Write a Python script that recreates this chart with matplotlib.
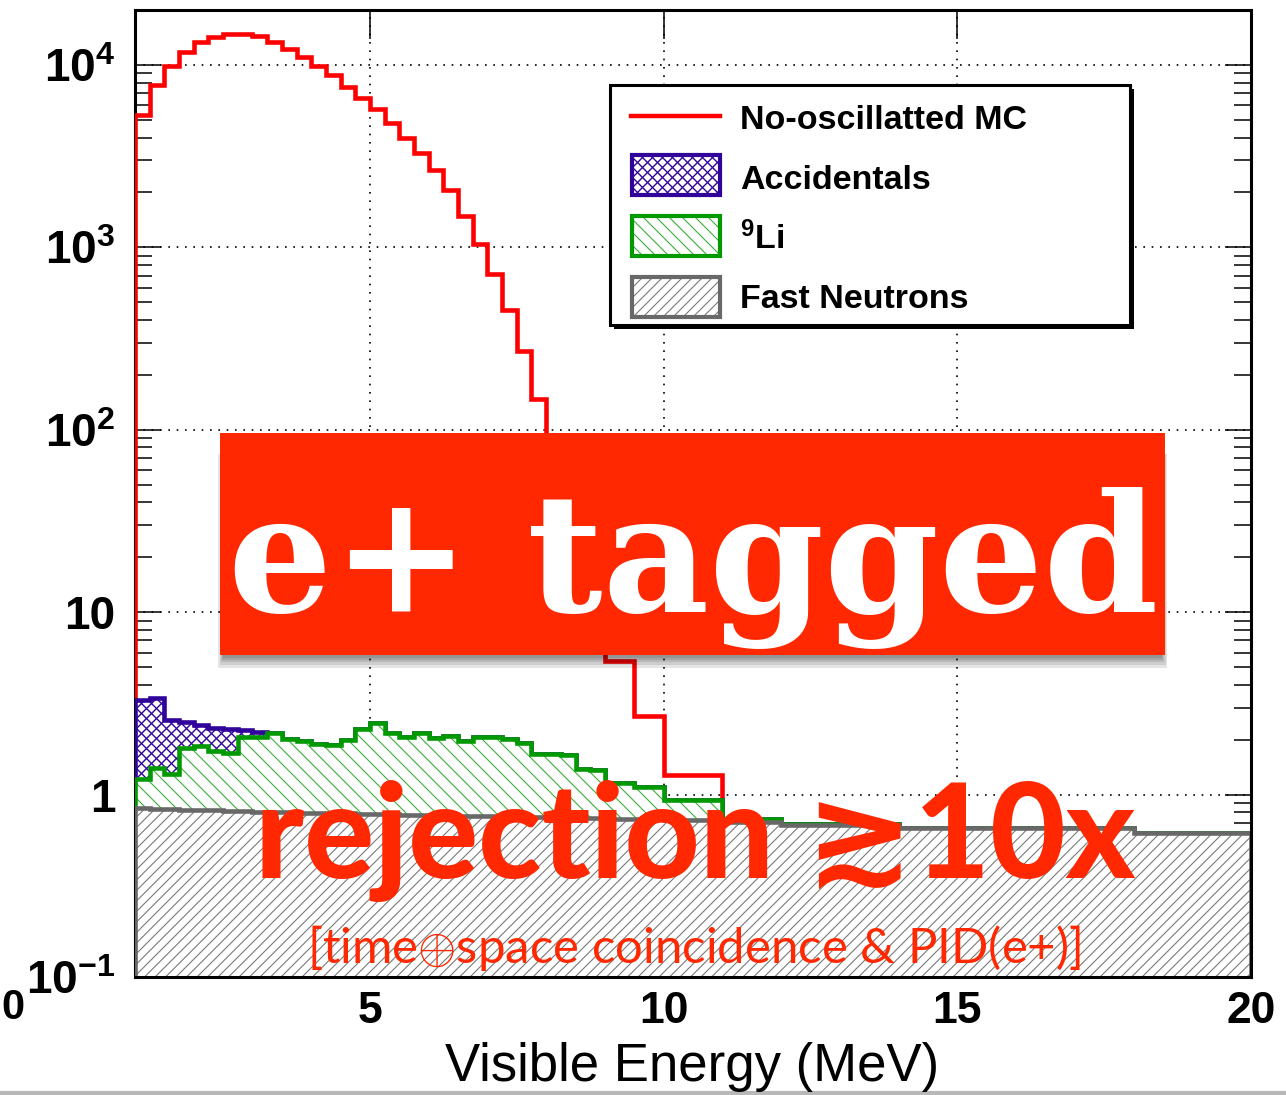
import numpy as np
import matplotlib
matplotlib.use("Agg")
import matplotlib.pyplot as plt
from matplotlib.collections import LineCollection
from matplotlib.patches import Rectangle
from matplotlib.lines import Line2D
from matplotlib.ticker import NullFormatter

W, H = 1286, 1095

# binning: 0.25 MeV up to 9 MeV, coarser above
edges = np.r_[np.arange(1.0, 9.0, 0.25), 9.0, 9.5, 10.0, 11.0, 12.0, 14.0, 18.0, 20.0]

# no-oscillation MC prediction (bins up to 11 MeV)
mc_nosc = [5320, 7780, 9900, 11800, 13300, 14300, 14700, 14700, 14400, 13400,
           12300, 11100, 9880, 8840, 7610, 6570, 5700, 4800, 3970, 3290,
           2660, 2070, 1490, 1045, 710, 456, 270, 147, 80, 42,
           22, 11, 5.4, 2.7, 1.28]

# backgrounds, stacked as fast-n -> 9Li -> accidentals
fast_n = [0.840, 0.835, 0.830, 0.826, 0.822, 0.818, 0.814, 0.810, 0.806, 0.803,
          0.800, 0.797, 0.794, 0.791, 0.788, 0.785, 0.782, 0.779, 0.776, 0.773,
          0.770, 0.768, 0.766, 0.764, 0.762, 0.760, 0.757, 0.754, 0.751, 0.748,
          0.745, 0.742, 0.738, 0.734, 0.728, 0.705, 0.685, 0.657, 0.617]
li9 = [0.37, 0.57, 0.47, 0.97, 1.02, 0.91, 0.88, 1.26, 1.26, 1.38,
       1.22, 1.16, 1.11, 1.09, 1.21, 1.49, 1.69, 1.40, 1.29, 1.39,
       1.27, 1.33, 1.21, 1.31, 1.31, 1.26, 1.17, 0.91, 0.91, 0.91,
       0.63, 0.63, 0.42, 0.36, 0.21, 0.03, 0.005, 0.0, 0.0]
accidentals = [2.10, 1.98, 1.25, 0.69, 0.58, 0.59, 0.58, 0.18, 0.15] + [0.0] * 30

legend_labels = ["No-oscillatted MC", "Accidentals", r"$^{9}$Li", "Fast Neutrons"]
ytick_vals = [0.1, 1, 10, 100, 1000, 10000]
ytick_text = [r"$10^{-1}$", "1", "10", r"$10^{2}$", r"$10^{3}$", r"$10^{4}$"]
xtick_vals = [5, 10, 15, 20]

RED = "#ff0000"
BLUE = "#30049a"
GREEN = "#009a00"
GREY = "#686868"
BANNER = "#ff2800"

plt.rcParams["font.family"] = ["Liberation Sans", "DejaVu Sans"]
plt.rcParams["mathtext.fontset"] = "custom"
plt.rcParams["mathtext.rm"] = "Liberation Sans"
plt.rcParams["mathtext.bf"] = "Liberation Sans:bold"
plt.rcParams["mathtext.default"] = "bf"


def fx(x):
    return x / W


def fy(y):
    return 1 - y / H


def hatch(clip, frame_w, frame_h, transform, spacing, dirs, color, lw, zorder):
    """Diagonal hatch lines with a fixed pixel spacing, clipped to a patch."""
    segs = []
    for d in dirs:
        x0 = -frame_h
        while x0 < frame_w:
            if d > 0:
                segs.append([(x0 / frame_w, 0.0), ((x0 + frame_h) / frame_w, 1.0)])
            else:
                segs.append([(x0 / frame_w, 1.0), ((x0 + frame_h) / frame_w, 0.0)])
            x0 += spacing
    lc = LineCollection(segs, colors=color, linewidths=lw, transform=transform,
                        zorder=zorder)
    lc.set_clip_path(clip)
    return lc


fig = plt.figure(figsize=(W / 100, H / 100), dpi=100)
ax_l, ax_r, ax_t, ax_b = 135, 1251, 10, 977
ax = fig.add_axes([fx(ax_l), fy(ax_b), (ax_r - ax_l) / W, (ax_b - ax_t) / H])
ax.set_yscale("log")
ax.set_xlim(1, 20)
ymin = 0.1
ax.set_ylim(ymin, 2.0e4)
ax.set_axisbelow(True)
ax.grid(True, which="major", color="black", linestyle=(0, (1, 4)), lw=1.2)

fast_n = np.array(fast_n)
li_top = fast_n + np.array(li9)
acc_top = li_top + np.array(accidentals)

ax.stairs(mc_nosc, edges[:len(mc_nosc) + 1], baseline=ymin, fill=False,
          color=RED, lw=3.3, zorder=3)

stack = [
    (acc_top, BLUE, BLUE, 10.0, (1, -1), 1.0, 4),
    (li_top, GREEN, "#3aae3a", 15.0, (-1,), 0.8, 5),
    (fast_n, GREY, "#7a7a7a", 10.5, (1,), 0.8, 6),
]
frame_w, frame_h = ax_r - ax_l, ax_b - ax_t
for top, edge, hcol, sp, dirs, hlw, z in stack:
    body = ax.stairs(top, edges, baseline=ymin, fill=True, facecolor="white",
                     edgecolor="none", lw=0, zorder=z)
    lc = hatch(body, frame_w, frame_h, ax.transAxes, sp, dirs, hcol, hlw, z + 0.1)
    ax.add_collection(lc, autolim=False)
    lc.set_clip_box(ax.bbox)
    ax.stairs(top, edges, baseline=ymin, fill=False, color=edge, lw=3.3,
              zorder=z + 0.2)

ax.set_yticks(ytick_vals)
ax.set_yticklabels(ytick_text, fontsize=33, fontweight="bold")
ax.yaxis.set_minor_formatter(NullFormatter())
ax.set_xticks(xtick_vals)
ax.set_xticklabels([str(v) for v in xtick_vals], fontsize=32, fontweight="bold")
ax.tick_params(axis="both", which="both", direction="in", top=True, right=True)
ax.tick_params(axis="y", which="major", length=19, width=1.1, pad=14)
ax.tick_params(axis="y", which="minor", length=12, width=1.1)
ax.tick_params(axis="x", which="major", length=21, width=1.1, pad=10)
for name, sp in ax.spines.items():
    sp.set_linewidth(2.2)
    sp.set_zorder(2.5 if name == "left" else 10)

fig.text(fx(692), fy(1081), "Visible Energy (MeV)", fontsize=38,
         ha="center", va="baseline")
fig.text(fx(1), fy(1008), "0", fontsize=30, fontweight="bold",
         ha="left", va="center")
fig.add_artist(Line2D([0, 1], [fy(1093)] * 2, color="#b8b8b8", lw=3))

# legend box with shadow
lx0, ly0, lx1, ly1 = 610, 85, 1130, 325
fig.add_artist(Rectangle((fx(lx0 + 4), fy(ly1 + 4)), (lx1 - lx0) / W, (ly1 - ly0) / H,
                         transform=fig.transFigure, facecolor="black",
                         edgecolor="none", zorder=14))
fig.add_artist(Rectangle((fx(lx0), fy(ly1)), (lx1 - lx0) / W, (ly1 - ly0) / H,
                         transform=fig.transFigure, facecolor="white",
                         edgecolor="black", lw=2.2, zorder=15))
fig.add_artist(Line2D([fx(631), fx(720)], [fy(116)] * 2, color=RED, lw=3.2,
                      zorder=16))
boxes = [(175, BLUE, BLUE, 10.0, (1, -1), 1.0),
         (236, GREEN, "#3aae3a", 13.0, (-1,), 0.8),
         (297, GREY, "#7a7a7a", 10.0, (1,), 0.8)]
for yc, edge, hcol, sp, dirs, hlw in boxes:
    r = Rectangle((fx(632), fy(yc + 20)), 88 / W, 40 / H, transform=fig.transFigure,
                  facecolor="white", edgecolor="none", zorder=16)
    fig.add_artist(r)
    fig.add_artist(hatch(r, W, H, fig.transFigure, sp, dirs, hcol, hlw, 16.1))
    fig.add_artist(Rectangle((fx(632), fy(yc + 20)), 88 / W, 40 / H,
                             transform=fig.transFigure, facecolor="none",
                             edgecolor=edge, lw=3.0, zorder=16.2))
for yb, lab in zip([129, 189, 249, 308], legend_labels):
    fig.text(fx(740), fy(yb), lab, fontsize=24.5, fontweight="bold",
             ha="left", va="baseline", zorder=17)

# banner with soft drop shadow underneath
bx0, by0, bx1, by1 = 220, 433, 1165, 655
for r in [12, 9, 6, 4, 2]:
    fig.add_artist(Rectangle((fx(bx0 + 4 - r * 0.5), fy(by1 + 1 + r)),
                             (bx1 - bx0 - 8 + r) / W, (by1 - by0 - 20 + r) / H,
                             transform=fig.transFigure, facecolor="black",
                             edgecolor="none", alpha=0.1, zorder=19))
fig.add_artist(Rectangle((fx(bx0), fy(by1)), (bx1 - bx0) / W, (by1 - by0) / H,
                         transform=fig.transFigure, facecolor=BANNER,
                         edgecolor="none", zorder=20))

renderer = fig.canvas.get_renderer()


def fitted_text(x, y, s, width, **kw):
    t = fig.text(fx(x), fy(y), s, fontsize=100, ha="left", va="baseline", **kw)
    w = t.get_window_extent(renderer).width
    t.set_fontsize(100 * width / w)
    return t


fitted_text(228, 612, "e+ tagged", 930, color="white", fontweight="bold",
            family="DejaVu Serif", zorder=21)
fitted_text(255, 878, "rejection \u227310x", 880, color=BANNER, fontweight="black",
            family=["Lato", "DejaVu Sans"], zorder=21)
fitted_text(307, 963, r"[time$\oplus$space coincidence & PID(e+)]", 773,
            color=BANNER, fontweight="normal", family=["Lato", "DejaVu Sans"],
            zorder=21)

fig.savefig("out.png", dpi=100)
